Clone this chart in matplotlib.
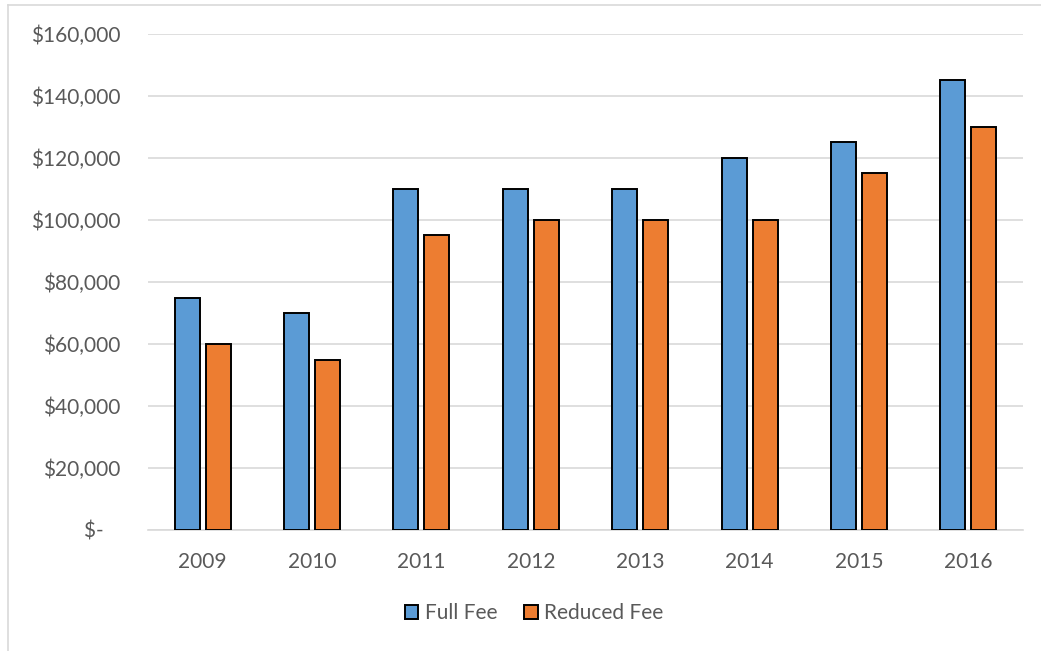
import matplotlib.pyplot as plt
from matplotlib.patches import Patch
from matplotlib.lines import Line2D
import numpy as np

plt.rcParams['font.family'] = ['Lato', 'DejaVu Sans']

years = ['2009', '2010', '2011', '2012', '2013', '2014', '2015', '2016']
full_fee = [75000, 70000, 110000, 110000, 110000, 120000, 125000, 145000]
reduced_fee = [60000, 55000, 95000, 100000, 100000, 100000, 115000, 130000]
yticks = [0, 20000, 40000, 60000, 80000, 100000, 120000, 140000, 160000]

BLUE = '#5B9BD5'
ORANGE = '#ED7D31'
TEXT = '#595959'
GRID = '#D9D9D9'
FS = 15

W, H = 1041, 651
fig = plt.figure(figsize=(W / 100, H / 100), dpi=100)
ax = fig.add_axes([148 / W, 1 - 530 / H, (1023 - 148) / W, (530 - 34) / H])

x = np.arange(len(years))
bw = 0.229
off = 0.142
ax.bar(x - off, full_fee, bw, color=BLUE, edgecolor='black', linewidth=1.4, zorder=3)
ax.bar(x + off, reduced_fee, bw, color=ORANGE, edgecolor='black', linewidth=1.4, zorder=3)

ax.set_xlim(-0.5, len(years) - 0.5)
ax.set_ylim(0, 160000)
ax.set_yticks(yticks)
# accounting-style labels: zero shown as a dash with trailing padding
ax.set_yticklabels(['$-   '] + [f'${v:,}' for v in yticks[1:]])
ax.set_xticks(x)
ax.set_xticklabels(years)
ax.grid(axis='y', color=GRID, linewidth=1.2, zorder=0)
ax.set_axisbelow(True)
for s in ['top', 'right', 'left']:
    ax.spines[s].set_visible(False)
ax.spines['bottom'].set_color(GRID)
ax.spines['bottom'].set_linewidth(1.2)
ax.tick_params(axis='both', length=0, labelsize=FS, labelcolor=TEXT)
ax.tick_params(axis='y', pad=20)
ax.tick_params(axis='x', pad=16)

handles = [Patch(facecolor=BLUE, edgecolor='black', linewidth=1.4, label='Full Fee'),
           Patch(facecolor=ORANGE, edgecolor='black', linewidth=1.4, label='Reduced Fee')]
leg = fig.legend(handles=handles, loc='center', bbox_to_anchor=(534 / W, 1 - 613 / H),
                 ncol=2, frameon=False, fontsize=FS, handlelength=0.65, handleheight=0.65,
                 handletextpad=0.3, columnspacing=1.3)
for t in leg.get_texts():
    t.set_color(TEXT)

# chart area border
fig.add_artist(Line2D([7.5 / W, 7.5 / W], [0, 1 - 4.5 / H], color='#D9D9D9', linewidth=1.2,
                      transform=fig.transFigure))
fig.add_artist(Line2D([7.5 / W, 1], [1 - 4.5 / H, 1 - 4.5 / H], color='#D9D9D9', linewidth=1.2,
                      transform=fig.transFigure))

fig.savefig('out.png', dpi=100)
